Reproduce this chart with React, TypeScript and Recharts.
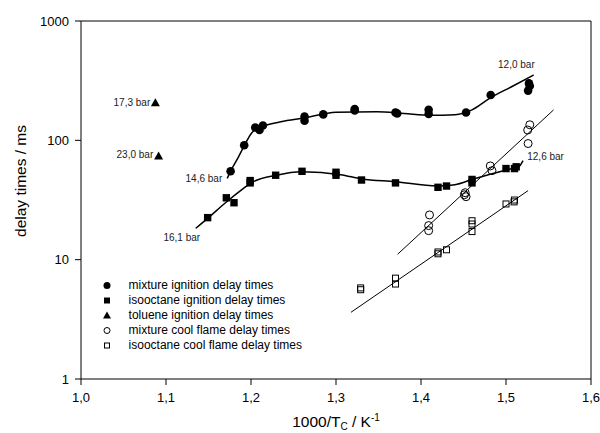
import React from 'react';
import { ComposedChart, Line, Scatter, XAxis, YAxis, ReferenceLine, Legend } from 'recharts';

// axis ticks
const xTicks = [1.0, 1.1, 1.2, 1.3, 1.4, 1.5, 1.6];
const yTicks = [1, 10, 100, 1000];

// measured points [1000/T, delay ms]
const mixtureIgnition = [
  [1.176, 55], [1.192, 91], [1.205, 128], [1.21, 122], [1.214, 133], [1.263, 158], [1.263, 146],
  [1.285, 165], [1.322, 183], [1.322, 178], [1.37, 171], [1.372, 168], [1.409, 180], [1.409, 166],
  [1.453, 171], [1.482, 240], [1.527, 300], [1.528, 285], [1.526, 261],
];
const isooctaneIgnition = [
  [1.149, 22.5], [1.171, 33], [1.18, 30], [1.199, 44], [1.199, 46], [1.229, 51], [1.26, 55],
  [1.3, 51], [1.3, 54], [1.33, 46.5], [1.37, 44], [1.42, 40.4], [1.43, 41.4], [1.46, 47],
  [1.46, 44], [1.5, 58], [1.51, 58], [1.512, 60],
];
const tolueneIgnition = [[1.0875, 207], [1.0913, 74]];
const mixtureCool = [
  [1.528, 135], [1.5255, 122], [1.526, 94], [1.4815, 61], [1.4835, 55.7], [1.452, 36.4],
  [1.453, 33.7], [1.451, 35], [1.41, 23.7], [1.409, 19.3], [1.409, 17.5],
];
const isooctaneCool = [
  [1.51, 31.6], [1.5095, 30.5], [1.5, 29.3], [1.46, 21.2], [1.46, 19.9], [1.46, 17.2],
  [1.43, 12.1], [1.42, 11.2], [1.42, 11.6], [1.37, 7.0], [1.37, 6.25], [1.329, 5.8], [1.329, 5.6],
];

// fitted curves
const mixtureIgnitionFit = [
  [1.172, 48], [1.176, 55], [1.185, 72], [1.192, 90], [1.201, 116], [1.212, 129], [1.235, 143],
  [1.263, 154], [1.3, 172], [1.348, 174], [1.38, 168], [1.411, 162], [1.44, 164], [1.46, 180],
  [1.482, 228], [1.506, 280], [1.5325, 353],
];
const isooctaneIgnitionFit = [
  [1.135, 18.3], [1.15, 22.5], [1.17, 30], [1.19, 39], [1.2, 44], [1.23, 51], [1.26, 54.5],
  [1.3055, 51.5], [1.33, 47.5], [1.37, 45], [1.419, 41.4], [1.44, 42.5], [1.46, 47], [1.5, 56.5],
  [1.515, 60], [1.52, 67.5],
];
const mixtureCoolFit = [[1.3725, 11.1], [1.556, 180]];
const isooctaneCoolFit = [[1.3176, 3.62], [1.526, 37.9]];

// pressure annotations
const notes = [
  { x: 1.5122, y: 428, label: '12,0 bar', anchor: 'middle' },
  { x: 1.0815, y: 209, label: '17,3 bar', anchor: 'end' },
  { x: 1.085, y: 75.4, label: '23,0 bar', anchor: 'end' },
  { x: 1.1662, y: 48.3, label: '14,6 bar', anchor: 'end' },
  { x: 1.1186, y: 15.2, label: '16,1 bar', anchor: 'middle' },
  { x: 1.525, y: 73.9, label: '12,6 bar', anchor: 'start' },
];

const pts = (arr: number[][]) => arr.map(([x, y]) => ({ x, y }));
const font = '"Liberation Sans", Arial, sans-serif';

const FilledCircle = (p: any) => <circle cx={p.cx} cy={p.cy} r={4.3} fill="#000" />;
const FilledSquare = (p: any) => <rect x={p.cx - 3.7} y={p.cy - 3.7} width={7.4} height={7.4} fill="#000" />;
const Triangle = (p: any) => (
  <polygon points={`${p.cx},${p.cy - 4.5} ${p.cx + 4.5},${p.cy + 3.5} ${p.cx - 4.5},${p.cy + 3.5}`} fill="#000" />
);
const OpenCircle = (p: any) => <circle cx={p.cx} cy={p.cy} r={4} fill="none" stroke="#000" strokeWidth={1} />;
const OpenSquare = (p: any) => (
  <rect x={p.cx - 3} y={p.cy - 3} width={6} height={6} fill="none" stroke="#000" strokeWidth={1} />
);
const NoteText = (p: any) => (
  <text x={p.cx} y={p.cy} textAnchor={p.payload.anchor} dominantBaseline="central" fontSize={10} fontFamily={font} fill="#222">
    {p.payload.label}
  </text>
);

const legendItems = [
  { name: 'mixture ignition delay times', marker: <circle cx={6} cy={7.5} r={3.5} fill="#000" /> },
  { name: 'isooctane ignition delay times', marker: <rect x={3} y={4.5} width={6} height={6} fill="#000" /> },
  { name: 'toluene ignition delay times', marker: <polygon points="6,3.5 10,10.5 2,10.5" fill="#000" /> },
  { name: 'mixture cool flame delay times', marker: <circle cx={6} cy={7.5} r={3} fill="none" stroke="#000" /> },
  { name: 'isooctane cool flame delay times', marker: <rect x={3.5} y={5} width={5} height={5} fill="none" stroke="#000" /> },
];

const renderLegend = () => (
  <div style={{ fontFamily: font, fontSize: 12, color: '#000' }}>
    {legendItems.map((item) => (
      <div key={item.name} style={{ display: 'flex', alignItems: 'center', height: 15, whiteSpace: 'nowrap' }}>
        <svg width={12} height={15} style={{ marginRight: 15.6 }}>{item.marker}</svg>
        <span>{item.name}</span>
      </div>
    ))}
  </div>
);

const XTitle = (props: any) => {
  const vb = props.viewBox;
  return (
    <text x={vb.x + vb.width / 2} y={427} textAnchor="middle" fontSize={15.5} fontFamily={font} fill="#000">
      <tspan>1000/T</tspan>
      <tspan fontSize={10} dy={3}>C</tspan>
      <tspan fontSize={15.5} dy={-3}> / K</tspan>
      <tspan fontSize={10} dy={-6}>-1</tspan>
    </text>
  );
};

const YTitle = () => (
  <text x={20} y={181} transform="rotate(-90, 20, 181)" textAnchor="middle" dominantBaseline="central" fontSize={15.5} fontFamily={font} fill="#000">
    delay times / ms
  </text>
);

const fmtX = (v: number) => v.toFixed(1).replace('.', ',');

export default function App() {
  const tick = { fill: '#000', fontSize: 13, fontFamily: font };
  return (
    <div style={{ position: 'absolute', left: 0, top: 0, width: 600, height: 433, background: '#fff' }}>
      <ComposedChart width={600} height={433} margin={{ top: 21, right: 9, bottom: 0, left: 0 }}>
        <XAxis
          dataKey="x"
          type="number"
          domain={[1.0, 1.6]}
          ticks={xTicks}
          tickFormatter={fmtX}
          tick={tick}
          tickSize={6}
          tickMargin={8}
          height={54}
          stroke="#000"
          allowDataOverflow
          label={<XTitle />}
        />
        <YAxis
          dataKey="y"
          type="number"
          scale="log"
          domain={[1, 1000]}
          ticks={yTicks}
          tick={tick}
          tickSize={6}
          tickMargin={6}
          width={81}
          stroke="#000"
          allowDataOverflow
          label={<YTitle />}
        />
        <ReferenceLine y={1000} stroke="#000" />
        <ReferenceLine x={1.6} stroke="#000" />
        <Line data={pts(mixtureIgnitionFit)} dataKey="y" type="monotone" stroke="#000" strokeWidth={1.5} dot={false} isAnimationActive={false} />
        <Line data={pts(isooctaneIgnitionFit)} dataKey="y" type="monotone" stroke="#000" strokeWidth={1.5} dot={false} isAnimationActive={false} />
        <Line data={pts(mixtureCoolFit)} dataKey="y" type="linear" stroke="#000" strokeWidth={1} dot={false} isAnimationActive={false} />
        <Line data={pts(isooctaneCoolFit)} dataKey="y" type="linear" stroke="#000" strokeWidth={1} dot={false} isAnimationActive={false} />
        <Scatter name="mixture ignition delay times" data={pts(mixtureIgnition)} shape={<FilledCircle />} isAnimationActive={false} />
        <Scatter name="isooctane ignition delay times" data={pts(isooctaneIgnition)} shape={<FilledSquare />} isAnimationActive={false} />
        <Scatter name="toluene ignition delay times" data={pts(tolueneIgnition)} shape={<Triangle />} isAnimationActive={false} />
        <Scatter name="mixture cool flame delay times" data={pts(mixtureCool)} shape={<OpenCircle />} isAnimationActive={false} />
        <Scatter name="isooctane cool flame delay times" data={pts(isooctaneCool)} shape={<OpenSquare />} isAnimationActive={false} />
        <Scatter data={notes} shape={<NoteText />} isAnimationActive={false} legendType="none" />
        <Legend
          layout="vertical"
          align="center"
          verticalAlign="middle"
          content={renderLegend}
          wrapperStyle={{ left: 101, top: 277.5, width: 'auto' }}
        />
      </ComposedChart>
    </div>
  );
}
